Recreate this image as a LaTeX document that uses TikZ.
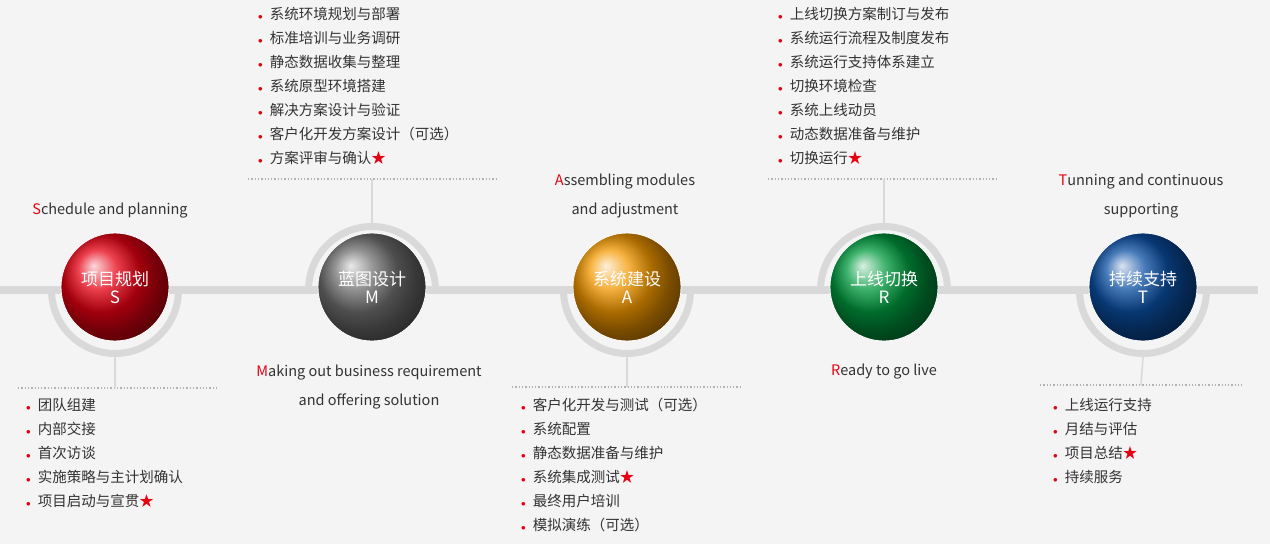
\documentclass[tikz,border=0pt]{standalone}
\usepackage{fontspec}
\setmainfont{Noto Sans CJK SC}
\usepackage{xcolor}
\definecolor{bg}{HTML}{F4F4F4}
\definecolor{band}{HTML}{D9D9D9}
\definecolor{txt}{HTML}{333333}
\definecolor{mark}{HTML}{E60012}
\definecolor{cS}{HTML}{E60012}
\definecolor{cM}{HTML}{707070}
\definecolor{cA}{HTML}{F39800}
\definecolor{cR}{HTML}{009A3E}
\definecolor{cT}{HTML}{0A4EA2}
\newcommand{\ringr}[0] {63.5}
\newcommand{\bdot}[0] {\textcolor{mark}{\small$\bullet$}}
\newcommand{\hot}[0] {\textcolor{mark}{★}}
\tikzset{
  phase/.style={shape=circle,minimum size=108pt,inner sep=0pt,align=center,text=white,
    font=\fontsize{17}{21}\selectfont,draw=white,line width=0.8pt,
    ball color=#1,shading=ball},
  item/.style={anchor=west,inner sep=0pt,text=txt,font=\fontsize{14.5}{16}\selectfont},
  title/.style={align=center,inner sep=0pt,text=txt,font=\fontsize{14.5}{29}\selectfont},
  sep/.style={draw=gray!60,dotted,line width=1.3pt},
  stem/.style={draw=band,line width=1.5pt},
  ring/.style={draw=band,line width=7pt}
}
\begin{document}
\begin{tikzpicture}[x=1pt,y=-1pt]
        \fill[bg] (0,0) rectangle (1270,544);
        \useasboundingbox (0,0) rectangle (1270,544);

        %band and half rings
        \draw[band,line width=8pt] (0,290) -- (1258,290);
        \draw[ring] (115-\ringr,290) arc[start angle=180,end angle=0,radius=\ringr];
        \draw[ring] (372-\ringr,290) arc[start angle=180,end angle=360,radius=\ringr];
        \draw[ring] (627-\ringr,290) arc[start angle=180,end angle=0,radius=\ringr];
        \draw[ring] (884-\ringr,290) arc[start angle=180,end angle=360,radius=\ringr];
        \draw[ring] (1143-\ringr,290) arc[start angle=180,end angle=0,radius=\ringr];
        \fill[bg] (0,294) rectangle (0,294);

        %phases
        \node[phase=cS] (s) at (115, 287) {项目规划\\[-3pt]S};
        \node[phase=cM] (m) at (372, 287) {蓝图设计\\[-3pt]M};
        \node[phase=cA] (a) at (627, 287) {系统建设\\[-3pt]A};
        \node[phase=cR] (r) at (884, 287) {上线切换\\[-3pt]R};
        \node[phase=cT] (t) at (1143, 287) {持续支持\\[-3pt]T};

        %titles
        \node[title] (st) at (110, 211) {\textcolor{mark}{S}chedule and planning};
        \node[title] (mt) at (369, 387) {\textcolor{mark}{M}aking out business requirement\\and offering solution};
        \node[title] (at) at (625, 196) {\textcolor{mark}{A}ssembling modules\\and adjustment};
        \node[title] (rt) at (884, 372) {\textcolor{mark}{R}eady to go live};
        \node[title] (tt) at (1141, 196) {\textcolor{mark}{T}unning and continuous\\supporting};

        %separators and stems
        \coordinate (sl) at (115, 388); \coordinate (sr) at (115, 357);
        \coordinate (ml) at (372, 179); \coordinate (mr) at (372, 223);
        \coordinate (al) at (627, 387); \coordinate (ar) at (627, 357);
        \coordinate (rl) at (884, 179); \coordinate (rr) at (884, 223);
        \coordinate (tl) at (1141, 385); \coordinate (tr) at (1143, 357);
        \draw[sep] (18, 388) -- (218, 388);
        \draw[sep] (248, 179) -- (498, 179);
        \draw[sep] (512, 387) -- (742, 387);
        \draw[sep] (768, 179) -- (998, 179);
        \draw[sep] (1040, 385) -- (1242, 385);
        \draw[stem] (sr) -- (sl);
        \draw[stem] (ml) -- (mr);
        \draw[stem] (ar) -- (al);
        \draw[stem] (rl) -- (rr);
        \draw[stem] (tr) -- (tl);

        %items of s
        \foreach \txt [count=\i] in {团队组建,内部交接,首次访谈,实施策略与主计划确认,项目启动与宣贯\hot}
            \node[item] (s\i) at (26, 381+24*\i) {\bdot\hspace{7pt}\txt};

        %items of m
        \foreach \txt [count=\i] in {系统环境规划与部署,标准培训与业务调研,静态数据收集与整理,系统原型环境搭建,解决方案设计与验证,客户化开发方案设计（可选）,方案评审与确认\hot}
            \node[item] (m\i) at (258, -10+24*\i) {\bdot\hspace{7pt}\txt};

        %items of a
        \foreach \txt [count=\i] in {客户化开发与测试（可选）,系统配置,静态数据准备与维护,系统集成测试\hot,最终用户培训,模拟演练（可选）}
            \node[item] (a\i) at (521, 381+24*\i) {\bdot\hspace{7pt}\txt};

        %items of r
        \foreach \txt [count=\i] in {上线切换方案制订与发布,系统运行流程及制度发布,系统运行支持体系建立,切换环境检查,系统上线动员,动态数据准备与维护,切换运行\hot}
            \node[item] (r\i) at (778, -10+24*\i) {\bdot\hspace{7pt}\txt};

        %items of t
        \foreach \txt [count=\i] in {上线运行支持,月结与评估,项目总结\hot,持续服务}
            \node[item] (t\i) at (1053, 381+24*\i) {\bdot\hspace{7pt}\txt};
\end{tikzpicture}
\end{document}
